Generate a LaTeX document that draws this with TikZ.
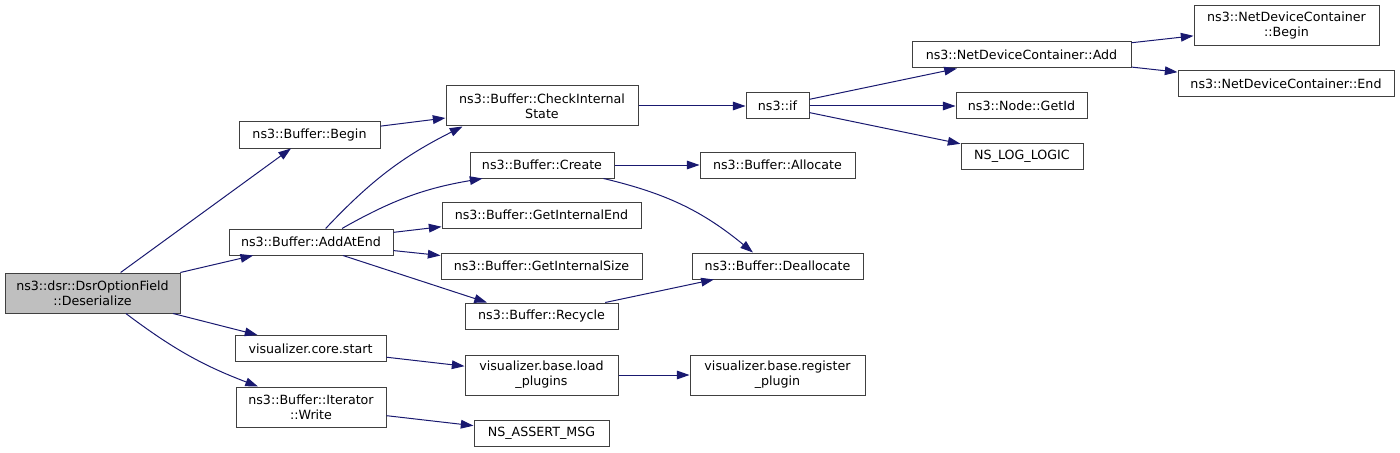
\documentclass[tikz,border=0pt]{standalone}
\usepackage{fontspec}
\setmainfont{DejaVu Sans}
\usetikzlibrary{arrows.meta}

\begin{document}
\begin{tikzpicture}[x=0.75pt, y=0.75pt, >={Triangle[length=9.5pt,width=6.5pt]}, every node/.style={font=\fontsize{9.5}{11.3}\selectfont},
  fn/.style={draw=BoxLine, fill=white, line width=0.75pt, minimum height=19.5pt, inner sep=0pt, align=center},
  fntwo/.style={fn, minimum height=30pt}, call/.style={->, draw=Edge, line width=0.75pt}]
\definecolor{Edge}{HTML}{191970}\definecolor{BoxLine}{HTML}{404040}\definecolor{RootFill}{HTML}{BFBFBF}
\useasboundingbox (0,0) rectangle (1400,-453);
% caller
\node[fntwo, fill=RootFill, minimum width=131.25pt] (root) at (92.5,-293) {ns3::dsr::DsrOptionField\\::Deserialize};
% first level
\node[fn, minimum width=105.75pt] (begin) at (309.5,-135) {ns3::Buffer::Begin};
\node[fn, minimum width=123pt] (addatend) at (311,-242) {ns3::Buffer::AddAtEnd};
\node[fn, minimum width=113.25pt] (corestart) at (310.5,-348.5) {visualizer.core.start};
\node[fntwo, minimum width=112.5pt] (itwrite) at (311,-407) {ns3::Buffer::Iterator\\::Write};
% second level
\node[fntwo, minimum width=144pt] (checkstate) at (542,-106) {ns3::Buffer::CheckInternal\\State};
\node[fn, minimum width=108pt] (create) at (542,-165) {ns3::Buffer::Create};
\node[fn, minimum width=149.25pt] (intend) at (541.5,-215) {ns3::Buffer::GetInternalEnd};
\node[fn, minimum width=150.75pt] (intsize) at (541.5,-266) {ns3::Buffer::GetInternalSize};
\node[fn, minimum width=114.75pt] (recycle) at (541.5,-316) {ns3::Buffer::Recycle};
\node[fntwo, minimum width=114.75pt] (loadplugins) at (541.5,-375) {visualizer.base.load\\\_plugins};
\node[fn, minimum width=101.25pt] (assertmsg) at (541.5,-433.5) {NS\_ASSERT\_MSG};
% third level
\node[fn, minimum width=47.25pt] (nsif) at (777.5,-106) {ns3::if};
\node[fn, minimum width=116.25pt] (allocate) at (777.5,-165) {ns3::Buffer::Allocate};
\node[fn, minimum width=128.25pt] (deallocate) at (777.5,-266) {ns3::Buffer::Deallocate};
\node[fntwo, minimum width=131.25pt] (register) at (777.5,-375) {visualizer.base.register\\\_plugin};
% fourth and fifth level
\node[fn, minimum width=164.25pt] (ndcadd) at (1021.5,-55) {ns3::NetDeviceContainer::Add};
\node[fn, minimum width=98.25pt] (getid) at (1021.5,-106) {ns3::Node::GetId};
\node[fn, minimum width=91.5pt] (loglogic) at (1022,-156.5) {NS\_LOG\_LOGIC};
\node[fntwo, minimum width=138.75pt] (ndcbegin) at (1286.5,-25.5) {ns3::NetDeviceContainer\\::Begin};
\node[fn, minimum width=162pt] (ndcend) at (1286,-84) {ns3::NetDeviceContainer::End};
% calls
\draw[call] (root) -- (begin); \draw[call] (root) -- (addatend); \draw[call] (root) -- (corestart);
\draw[call] ([xshift=25pt]root.south) to[bend right=8] ([xshift=-39.75pt]itwrite.north);
\draw[call] (begin) -- (checkstate);
\draw[call] ([xshift=11pt]addatend.north) to[bend left=10] ([xshift=12.75pt]checkstate.south west);
\draw[call] ([xshift=23.25pt]addatend.north) to[bend left=10] ([xshift=9.75pt]create.south west);
\draw[call] (addatend) -- (intend); \draw[call] (addatend) -- (intsize);
\draw[call] ([xshift=24pt]addatend.south) -- ([xshift=-40.9pt]recycle.north);
\draw[call] (corestart) -- (loadplugins); \draw[call] (itwrite) -- (assertmsg);
\draw[call] (checkstate) -- (nsif); \draw[call] (create) -- (allocate);
\draw[call] ([xshift=-8.25pt]create.south east) to[bend left=13] ([xshift=-18.4pt]deallocate.north);
\draw[call] (recycle) -- (deallocate); \draw[call] (loadplugins) -- (register);
\draw[call] (nsif) -- (ndcadd); \draw[call] (nsif) -- (getid); \draw[call] (nsif) -- (loglogic);
\draw[call] (ndcadd) -- (ndcbegin); \draw[call] (ndcadd) -- (ndcend);
\end{tikzpicture}
\end{document}
